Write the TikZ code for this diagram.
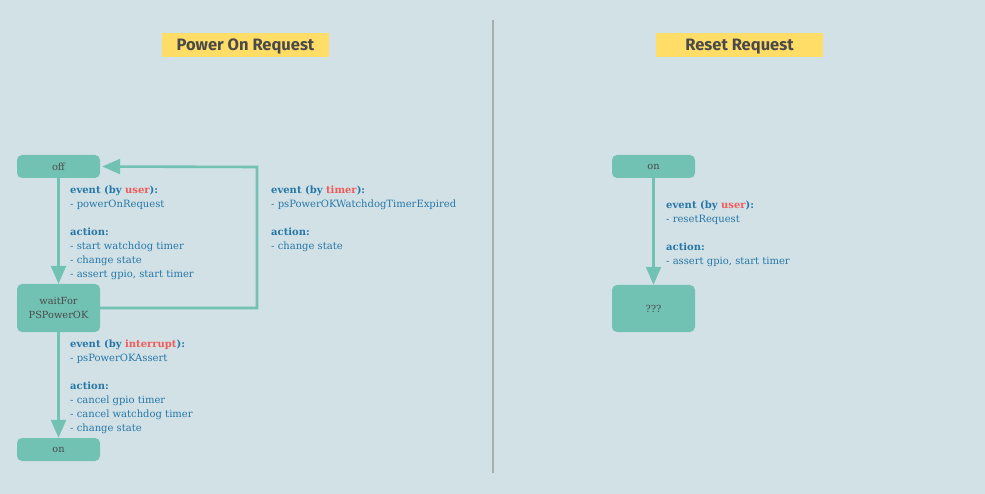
\documentclass[tikz,border=0pt]{standalone}
\usepackage{fontspec}
\setmainfont{DejaVu Serif}
\newfontfamily\titlefont{Fira Sans}
\usetikzlibrary{arrows.meta}
\definecolor{bgc}{HTML}{D2E1E5}
\definecolor{nodec}{HTML}{72C2B4}
\definecolor{txtc}{HTML}{4A4A4A}
\definecolor{bluec}{HTML}{2677A8}
\definecolor{redc}{HTML}{F05A5A}
\definecolor{yelc}{HTML}{FFDD66}
\definecolor{divc}{HTML}{A8ADAE}
\tikzset{
  x=1pt, y=-1pt,
  state/.style={fill=nodec, rounded corners=5pt, minimum width=83pt, text=txtc, font=\fontsize{9.8}{14}\selectfont, align=center, inner sep=0pt},
  title/.style={fill=yelc, minimum width=167pt, minimum height=24pt, text=txtc, font=\titlefont\bfseries\fontsize{16.5}{18}\selectfont, inner sep=0pt, text height=12pt, text depth=0pt},
  info/.style={anchor=north west, text=bluec, font=\fontsize{10}{14}\selectfont, align=left, inner sep=0pt},
  conn/.style={draw=nodec, line width=2.6pt, -{Triangle[length=18pt,width=15pt]}},
}
\newcommand{\hd}[1]{\textbf{#1}}
\begin{document}
\begin{tikzpicture}
\useasboundingbox[fill=bgc] (0,0) rectangle (985,494);
\draw[divc, line width=1.5pt] (493,20) -- (493,473);

\node[title] (t1) at (245.5,45) {Power On Request};
\node[title] (t2) at (739.5,45) {Reset Request};

\node[state, minimum height=23pt] (off) at (58.5,166.5) {off};
\node[state, minimum height=48pt] (wait) at (58.5,308) {waitFor\\PSPowerOK};
\node[state, minimum height=23pt] (onL) at (58.5,449.5) {on};

\node[state, minimum height=23pt] (onR) at (653.5,166.5) {on};
\node[state, minimum height=47pt] (q) at (653.5,308.5) {???};

\coordinate (c1) at (257,308);
\coordinate (c2) at (257,167);

\draw[conn] (off) -- (wait);
\draw[conn] (wait) -- (onL);
\draw[conn] (onR) -- (q);
\draw[conn, rounded corners=0pt] (wait.east) -- (c1) -- (c2) -- ([xshift=2pt]off.east);

\node[info] (i1) at (70,185.5) {\hd{event (by \textcolor{redc}{user}):}\\- powerOnRequest\\[14pt]\hd{action:}\\- start watchdog timer\\- change state\\- assert gpio, start timer};
\node[info] (i2) at (271,185.5) {\hd{event (by \textcolor{redc}{timer}):}\\- psPowerOKWatchdogTimerExpired\\[14pt]\hd{action:}\\- change state};
\node[info] (i3) at (70,339.5) {\hd{event (by \textcolor{redc}{interrupt}):}\\- psPowerOKAssert\\[14pt]\hd{action:}\\- cancel gpio timer\\- cancel watchdog timer\\- change state};
\node[info] (i4) at (666,200.5) {\hd{event (by \textcolor{redc}{user}):}\\- resetRequest\\[14pt]\hd{action:}\\- assert gpio, start timer};
\end{tikzpicture}
\end{document}
